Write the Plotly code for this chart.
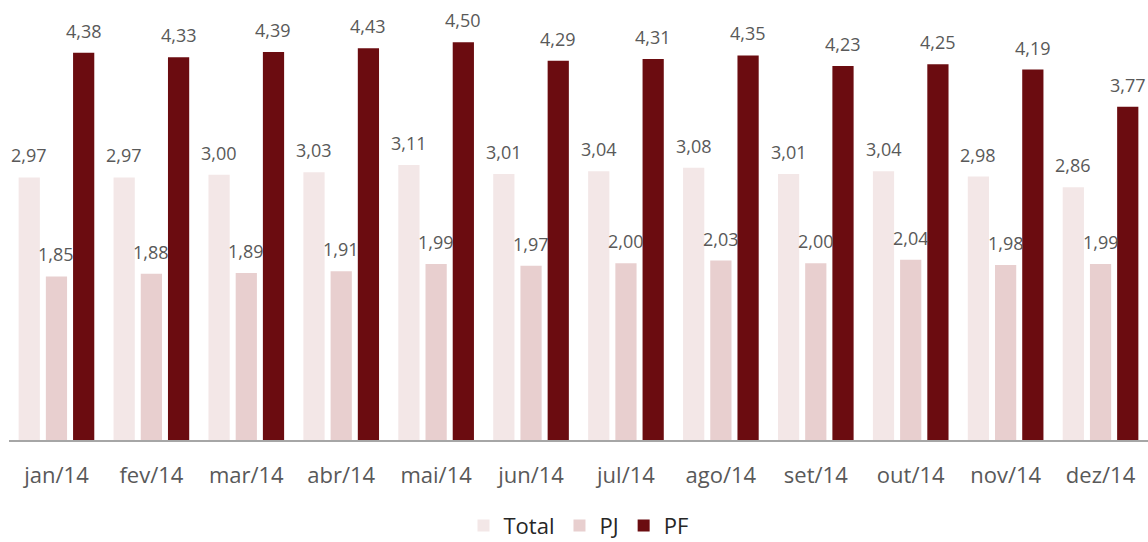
import plotly.graph_objects as go

months = ["jan/14", "fev/14", "mar/14", "abr/14", "mai/14", "jun/14",
          "jul/14", "ago/14", "set/14", "out/14", "nov/14", "dez/14"]
total = [2.97, 2.97, 3.00, 3.03, 3.11, 3.01, 3.04, 3.08, 3.01, 3.04, 2.98, 2.86]
pj = [1.85, 1.88, 1.89, 1.91, 1.99, 1.97, 2.00, 2.03, 2.00, 2.04, 1.98, 1.99]
pf = [4.38, 4.33, 4.39, 4.43, 4.50, 4.29, 4.31, 4.35, 4.23, 4.25, 4.19, 3.77]

series = [("Total", total, "#F3E7E7"), ("PJ", pj, "#E8CFCF"), ("PF", pf, "#6B0C10")]

W, H = 1148, 542
ML, MR, MT, MB = 9, 0, 0, 102
BARGAP, GROUPGAP = 0.14, 0.22

fig = go.Figure()
for name, vals, color in series:
    fig.add_trace(go.Bar(
        x=months, y=vals, name=name, marker=dict(color=color, line=dict(width=0)),
    ))

# value labels above bars (offset by the bar slot inside each group)
cat_w = (W - ML - MR) / len(months)
slot = cat_w * (1 - BARGAP) / len(series)
annotations = []
for i, (name, vals, color) in enumerate(series):
    for m, v in zip(months, vals):
        annotations.append(dict(
            x=m, y=v, xref="x", yref="y", text=f"{v:.2f}".replace(".", ","),
            showarrow=False, xanchor="center", yanchor="bottom",
            xshift=(i - 1) * slot, yshift=8,
            font=dict(family="Open Sans, sans-serif", size=18, color="#595959"),
        ))

fig.update_layout(
    width=W, height=H,
    margin=dict(l=ML, r=MR, t=MT, b=MB, autoexpand=False),
    barmode="group", bargap=BARGAP, bargroupgap=GROUPGAP,
    separators=",.",
    plot_bgcolor="white", paper_bgcolor="white",
    font=dict(family="Open Sans, sans-serif"),
    showlegend=True,
    annotations=annotations,
    legend=dict(orientation="h", x=0.5, xanchor="center", y=-0.195, yanchor="middle",
                font=dict(size=22, color="#262626"), itemwidth=30,
                traceorder="normal"),
    xaxis=dict(showline=True, linecolor="#A6A6A6", linewidth=2, showgrid=False,
               automargin=False,
               ticks="outside", ticklen=15, tickcolor="rgba(0,0,0,0)",
               tickfont=dict(size=22, color="#595959")),
    yaxis=dict(range=[0, 4.977], visible=False, showgrid=False, automargin=False),
)

fig.write_html("out.html", config={"displayModeBar": False},
               post_script="document.body.style.margin='0';document.body.style.overflow='hidden';")
